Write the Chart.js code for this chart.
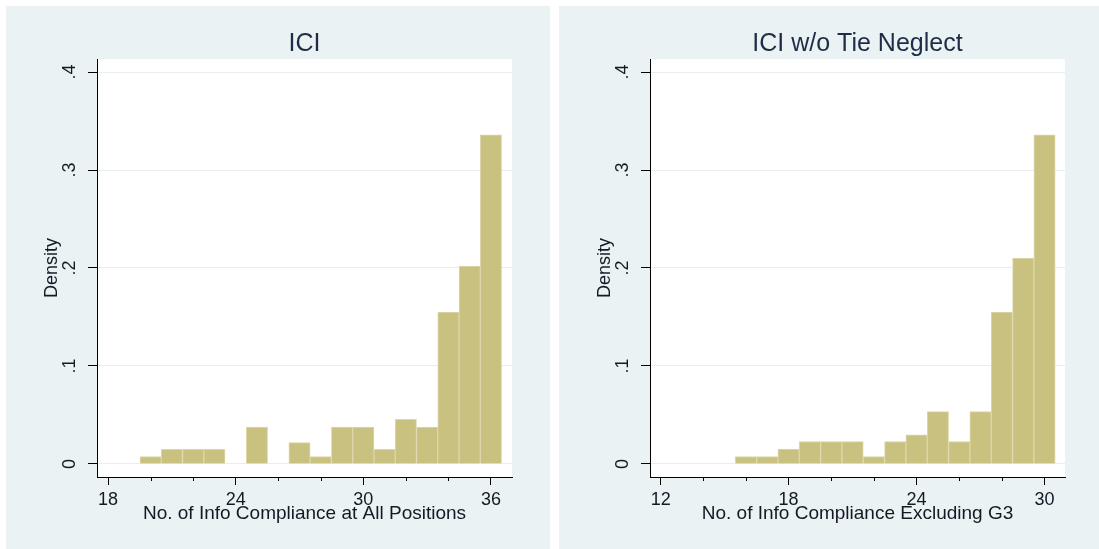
<!DOCTYPE html>
<html>
<head>
<meta charset="utf-8">
<script src="https://cdn.jsdelivr.net/npm/chart.js@4/dist/chart.umd.min.js"></script>
<style>
    body { margin: 0; background: #fff; width: 1099px; height: 549px; overflow: hidden; position: relative; }
    .panel { position: absolute; top: 6px; height: 543px; background: #eaf2f3; }
    #leftPanel { left: 6px; width: 544px; }
    #rightPanel { left: 559px; width: 540px; }
</style>
</head>
<body>
<div class="panel" id="leftPanel"><canvas id="leftChart" width="544" height="543"></canvas></div>
<div class="panel" id="rightPanel"><canvas id="rightChart" width="540" height="543"></canvas></div>

<script>
// left panel: all positions
const leftBins = [20, 21, 22, 23, 24, 25, 26, 27, 28, 29, 30, 31, 32, 33, 34, 35, 36];
const leftDensity = [0.0075, 0.015, 0.015, 0.015, null, 0.0376, null, 0.0218, 0.0075, 0.0376, 0.0376, 0.015, 0.0455, 0.0376, 0.155, 0.202, 0.336];
const leftXTicks = [18, 24, 30, 36];
const leftXMinor = [20, 22, 26, 28, 32, 34];

// right panel: excluding G3
const rightBins = [16, 17, 18, 19, 20, 21, 22, 23, 24, 25, 26, 27, 28, 29, 30];
const rightDensity = [0.0076, 0.0076, 0.0152, 0.0228, 0.0228, 0.0228, 0.0076, 0.0228, 0.0298, 0.0534, 0.0228, 0.0534, 0.155, 0.21, 0.336];
const rightXTicks = [12, 18, 24, 30];
const rightXMinor = [14, 16, 20, 22, 26, 28];

const yTicks = [0, 0.1, 0.2, 0.3, 0.4];
const yTickLabels = ['0', '.1', '.2', '.3', '.4'];

const FONT = 'Liberation Sans, Arial, sans-serif';
const TEXT = '#141a24';

const plotBg = {
    id: 'plotBg',
    beforeDraw(chart) {
        const a = chart.chartArea;
        chart.ctx.save();
        chart.ctx.fillStyle = '#ffffff';
        chart.ctx.fillRect(a.left, a.top, a.right - a.left, a.bottom - a.top);
        chart.ctx.restore();
    }
};

const panelTitle = {
    id: 'panelTitle',
    afterDraw(chart, args, opts) {
        const a = chart.chartArea;
        const ctx = chart.ctx;
        ctx.save();
        ctx.font = '25px ' + FONT;
        ctx.fillStyle = '#1e2c48';
        ctx.textAlign = 'center';
        ctx.textBaseline = 'alphabetic';
        ctx.fillText(opts.text, (a.left + a.right) / 2, 45);
        ctx.restore();
    }
};

const minorTicks = {
    id: 'minorTicks',
    afterDraw(chart, args, opts) {
        const x = chart.scales.x;
        const ctx = chart.ctx;
        const y0 = chart.chartArea.bottom;
        ctx.save();
        ctx.strokeStyle = '#000';
        ctx.lineWidth = 1;
        opts.values.forEach(v => {
            const px = Math.round(x.getPixelForValue(v)) + 0.5;
            ctx.beginPath();
            ctx.moveTo(px, y0);
            ctx.lineTo(px, y0 + 4);
            ctx.stroke();
        });
        ctx.restore();
    }
};

function createHistogram(canvasId, title, xTitle, bins, density, xMin, xMax, majors, minors, rightPad) {
    const ctx = document.getElementById(canvasId).getContext('2d');

    new Chart(ctx, {
        type: 'bar',
        data: {
            datasets: [{
                data: bins.map((b, i) => ({ x: b, y: density[i] })),
                backgroundColor: '#c9c17f',
                borderColor: '#ddd7ac',
                borderWidth: 1,
                barPercentage: 1,
                categoryPercentage: 1
            }]
        },
        options: {
            responsive: false,
            animation: false,
            layout: { padding: { left: 0, right: rightPad, top: 53, bottom: 0 } },
            plugins: {
                legend: { display: false },
                tooltip: { enabled: false },
                panelTitle: { text: title },
                minorTicks: { values: minors }
            },
            scales: {
                x: {
                    type: 'linear',
                    min: xMin,
                    max: xMax,
                    offset: false,
                    afterBuildTicks: s => { s.ticks = majors.map(v => ({ value: v })); },
                    afterFit: s => { s.height = 72; },
                    grid: { offset: false, drawOnChartArea: false, drawTicks: true, tickLength: 8, tickColor: '#000' },
                    border: { color: '#000', width: 1 },
                    ticks: {
                        color: TEXT,
                        font: { family: FONT, size: 18 },
                        padding: 4,
                        maxRotation: 0,
                        autoSkip: false,
                        callback: v => String(v)
                    },
                    title: {
                        display: true,
                        text: xTitle,
                        color: TEXT,
                        font: { family: FONT, size: 19 },
                        padding: { top: 0, bottom: 24 }
                    }
                },
                y: {
                    min: -0.0133,
                    max: 0.4133,
                    afterBuildTicks: s => { s.ticks = yTicks.map(v => ({ value: v })); },
                    afterFit: s => { s.width = 91; },
                    grid: { color: '#e6eef1', tickColor: '#000', tickLength: 9 },
                    border: { color: '#000', width: 1 },
                    ticks: {
                        color: TEXT,
                        font: { family: FONT, size: 18 },
                        minRotation: 90,
                        maxRotation: 90,
                        crossAlign: 'center',
                        padding: 10,
                        callback: v => yTickLabels[yTicks.indexOf(v)]
                    },
                    title: {
                        display: true,
                        text: 'Density',
                        color: TEXT,
                        font: { family: FONT, size: 18 },
                        padding: { top: 35 }
                    }
                }
            }
        },
        plugins: [plotBg, panelTitle, minorTicks]
    });
}

createHistogram('leftChart', 'ICI', 'No. of Info Compliance at All Positions',
    leftBins, leftDensity, 17.48, 36.99, leftXTicks, leftXMinor, 38);
createHistogram('rightChart', 'ICI w/o Tie Neglect', 'No. of Info Compliance Excluding G3',
    rightBins, rightDensity, 11.5, 30.96, rightXTicks, rightXMinor, 34);
</script>
</body>
</html>
